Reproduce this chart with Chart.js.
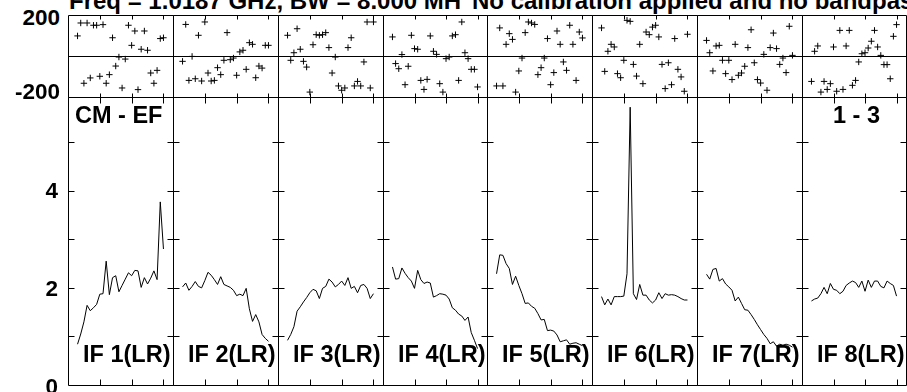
<!DOCTYPE html>
<html><head><meta charset="utf-8">
<script src="https://cdn.jsdelivr.net/npm/chart.js@4.4.1/dist/chart.umd.min.js"></script>
<style>
html,body{margin:0;padding:0;background:#fff;width:907px;height:392px;overflow:hidden;position:relative}
canvas{position:absolute}
.t{position:absolute;font-family:"Liberation Sans",Arial,Helvetica,sans-serif;font-weight:bold;color:#000;white-space:nowrap;line-height:1}
</style></head><body>
<script>
// ---------- data ----------
const TITLE_1 = "Freq = 1.0187 GHz, BW = 8.000 MH";
const TITLE_2 = "No calibration applied and no bandpas";
const BASELINE_LABEL = "CM - EF";
const PAGE_LABEL = "1 - 3";
const IF_LABELS = ["IF 1(LR)","IF 2(LR)","IF 3(LR)","IF 4(LR)","IF 5(LR)","IF 6(LR)","IF 7(LR)","IF 8(LR)"];
const PHASE_TICK_LABELS = ["200","-200"];
const AMP_TICK_LABELS = ["4","2","0"];
const CHANNELS = [3,4,5,6,7,8,9,10,11,12,13,14,15,16,17,18,19,20,21,22,23,24,25,26,27,28,29,30];
const X_TICKS = [10,20,30];
const AMP_TICKS = [1,2,3,4,5];

const AMP_1 = [0.84,1.05,1.30,1.64,1.53,1.59,1.66,1.87,1.88,2.55,1.86,2.21,2.25,1.92,2.05,2.18,2.31,2.25,2.36,2.35,2.01,2.21,2.08,2.20,2.35,2.17,3.77,2.80];
const AMP_2 = [2.02,2.10,1.95,2.03,2.13,2.03,2.00,2.15,2.32,2.26,2.17,2.07,2.23,2.07,2.04,2.01,1.95,1.84,1.87,1.84,1.99,1.57,1.31,1.45,1.30,1.04,0.96,0.90];
const AMP_3 = [0.92,1.04,1.20,1.52,1.61,1.71,1.80,1.90,1.97,1.94,1.78,1.99,2.03,2.18,2.12,2.02,2.07,2.14,2.05,2.21,1.99,2.03,1.90,2.05,2.07,1.99,1.78,1.88];
const AMP_4 = [2.43,2.18,2.19,2.41,2.30,2.21,2.14,1.99,2.36,2.17,2.09,2.12,2.10,1.81,1.84,1.88,1.87,1.85,1.77,1.59,1.54,1.46,1.42,1.33,1.40,1.08,0.92,0.75];
const AMP_5 = [2.29,2.68,2.67,2.50,2.40,2.07,2.24,2.05,1.88,1.68,1.69,1.62,1.58,1.47,1.34,1.35,1.12,1.13,1.11,1.03,0.89,0.91,0.93,0.84,0.86,0.87,0.84,0.81];
const AMP_6 = [1.82,1.65,1.77,1.65,1.82,1.82,1.82,1.83,2.29,5.72,1.88,1.76,2.07,1.85,1.85,1.75,1.69,1.75,1.90,1.78,1.88,1.85,1.86,1.85,1.82,1.78,1.75,1.75];
const AMP_7 = [2.28,2.18,2.38,2.40,2.14,2.19,2.08,2.02,1.95,1.73,1.81,1.68,1.55,1.54,1.45,1.35,1.24,1.14,1.04,0.96,0.85,0.89,0.80,0.84,0.82,0.84,0.82,0.78];
const AMP_8 = [1.73,1.77,1.79,1.88,2.01,1.88,2.09,1.97,1.95,1.88,1.93,2.05,2.10,2.14,2.11,2.01,2.14,1.93,2.16,2.01,2.14,2.14,2.03,2.00,2.14,2.09,2.05,1.83];

const PHASE_1 = [98,161,-133,161,-107,150,150,-99,153,-133,-91,89,-49,-5,-156,-15,150,52,122,-164,33,122,28,-83,-133,-70,85,89];
const PHASE_2 = [-26,154,-119,-2,-111,101,-122,166,-83,-122,-119,-57,-91,-21,114,-18,-10,-94,20,28,-65,65,57,-106,-49,-59,52,52];
const PHASE_3 = [101,-21,16,133,33,-26,-54,-176,55,104,101,104,114,41,-83,-5,-146,-167,-156,41,89,-146,-124,-146,-29,166,-156,166];
const PHASE_4 = [93,-37,-62,7,-140,-50,101,36,33,-119,-163,-114,98,23,8,-135,-176,-13,-5,98,104,-119,166,16,-13,-65,-65,-151];
const PHASE_5 = [-146,137,-146,57,109,81,-176,-73,-10,114,166,161,154,-91,-57,-10,85,-140,-81,122,57,-29,-70,150,57,-119,117,88];
const PHASE_6 = [137,-75,23,57,44,-86,-106,-21,174,169,-41,-98,57,-135,117,104,141,150,93,-41,-159,-33,-140,85,-65,-102,-172,106];
const PHASE_7 = [76,16,-73,49,52,-21,-86,-21,-115,57,-94,-83,-50,41,128,-33,-115,-132,8,-167,41,112,36,-41,-10,-81,145,3];
const PHASE_8 = [-124,23,49,-176,-124,-163,-135,44,-172,125,-163,49,125,-143,-119,-29,11,16,39,72,125,44,3,-42,-42,-111,96,153];

const AMPS = [AMP_1,AMP_2,AMP_3,AMP_4,AMP_5,AMP_6,AMP_7,AMP_8];
const PHASES = [PHASE_1,PHASE_2,PHASE_3,PHASE_4,PHASE_5,PHASE_6,PHASE_7,PHASE_8];

// ---------- layout ----------
const LEFTS = [68,173,278,383,487,592,697,802,906];
const PH_TOP = 15, AMP_TOP = 97, AMP_BOTTOM = 385;

function addText(txt, left, top, size, opts) {
  const d = document.createElement('div');
  d.className = 't';
  d.textContent = txt;
  d.style.fontSize = size + 'px';
  d.style.top = top + 'px';
  if (opts && opts.rightEdge !== undefined) {
    d.style.left = '0px';
    d.style.width = opts.rightEdge + 'px';
    d.style.textAlign = 'right';
  } else {
    d.style.left = left + 'px';
  }
  document.body.appendChild(d);
}

function framePlugin(kind) {
  return {
    id: 'frame_' + kind,
    afterDatasetsDraw(chart) {
      const ctx = chart.ctx, a = chart.chartArea;
      const xs = chart.scales.x, ys = chart.scales.y;
      const L = Math.round(a.left) + 0.5, R = Math.round(a.right) + 0.5;
      const T = Math.round(a.top) + 0.5, B = Math.round(a.bottom) + 0.5;
      ctx.save();
      ctx.strokeStyle = '#000';
      ctx.lineWidth = 1;
      ctx.beginPath();
      ctx.rect(L, T, R - L, B - T);
      const tl = kind === 'amp' ? 6 : 4;
      X_TICKS.forEach(t => {
        const px = Math.round(xs.getPixelForValue(t)) + 0.5;
        ctx.moveTo(px, B); ctx.lineTo(px, B - tl);
        ctx.moveTo(px, T); ctx.lineTo(px, T + tl);
      });
      if (kind === 'amp') {
        AMP_TICKS.forEach(v => {
          const py = Math.round(ys.getPixelForValue(v)) + 0.5;
          ctx.moveTo(L, py); ctx.lineTo(L + 6, py);
          ctx.moveTo(R, py); ctx.lineTo(R - 6, py);
        });
      } else {
        const py = Math.round(ys.getPixelForValue(0)) + 0.5;
        ctx.moveTo(L, py); ctx.lineTo(R, py);
      }
      ctx.stroke();
      ctx.restore();
    }
  };
}

function makeCanvas(left, top, w, h) {
  const c = document.createElement('canvas');
  c.width = w; c.height = h;
  c.style.left = left + 'px'; c.style.top = top + 'px';
  c.style.width = w + 'px'; c.style.height = h + 'px';
  document.body.appendChild(c);
  return c;
}

const baseOpts = (ymin, ymax) => ({
  responsive: false, animation: false, events: [], devicePixelRatio: 1,
  layout: { autoPadding: false, padding: { left: 0, top: 0, right: 1, bottom: 1 } },
  plugins: { legend: { display: false }, tooltip: { enabled: false }, title: { display: false } },
  scales: {
    x: { type: 'linear', min: 0, max: 33, display: false },
    y: { type: 'linear', min: ymin, max: ymax, display: false }
  }
});

for (let i = 0; i < 8; i++) {
  const left = LEFTS[i], w = LEFTS[i + 1] - LEFTS[i] + 1;
  // phase panel
  const cp = makeCanvas(left, PH_TOP, w, AMP_TOP - PH_TOP + 1);
  new Chart(cp, {
    type: 'scatter',
    data: { datasets: [{
      data: CHANNELS.map((c, k) => ({ x: c, y: PHASES[i][k] })),
      pointStyle: 'cross', pointRadius: 3.2, borderColor: '#000', backgroundColor: '#000',
      borderWidth: 1, showLine: false, clip: false
    }] },
    options: baseOpts(-200, 200),
    plugins: [framePlugin('phase')]
  });
  // amplitude panel
  const ca = makeCanvas(left, AMP_TOP, w, AMP_BOTTOM - AMP_TOP + 1);
  new Chart(ca, {
    type: 'line',
    data: { datasets: [{
      data: CHANNELS.map((c, k) => ({ x: c, y: AMPS[i][k] })),
      borderColor: '#000', borderWidth: 1, pointRadius: 0, tension: 0, fill: false
    }] },
    options: baseOpts(0, 5.93),
    plugins: [framePlugin('amp')]
  });
  addText(IF_LABELS[i], left + 15, 343.4, 23.5);
}

// titles and labels
addText(TITLE_1, 69, -11.3, 24);
addText(TITLE_2, 472, -11.3, 24);
addText(BASELINE_LABEL, 75, 104.1, 23.5);
addText(PAGE_LABEL, 833, 104.1, 23.5);
addText(PHASE_TICK_LABELS[0], 0, 7, 22.5, { rightEdge: 60 });
addText(PHASE_TICK_LABELS[1], 0, 81, 22.5, { rightEdge: 60 });
addText(AMP_TICK_LABELS[0], 0, 180, 22.5, { rightEdge: 58 });
addText(AMP_TICK_LABELS[1], 0, 277.6, 22.5, { rightEdge: 58 });
addText(AMP_TICK_LABELS[2], 0, 375.6, 22.5, { rightEdge: 58 });
</script>
</body></html>
